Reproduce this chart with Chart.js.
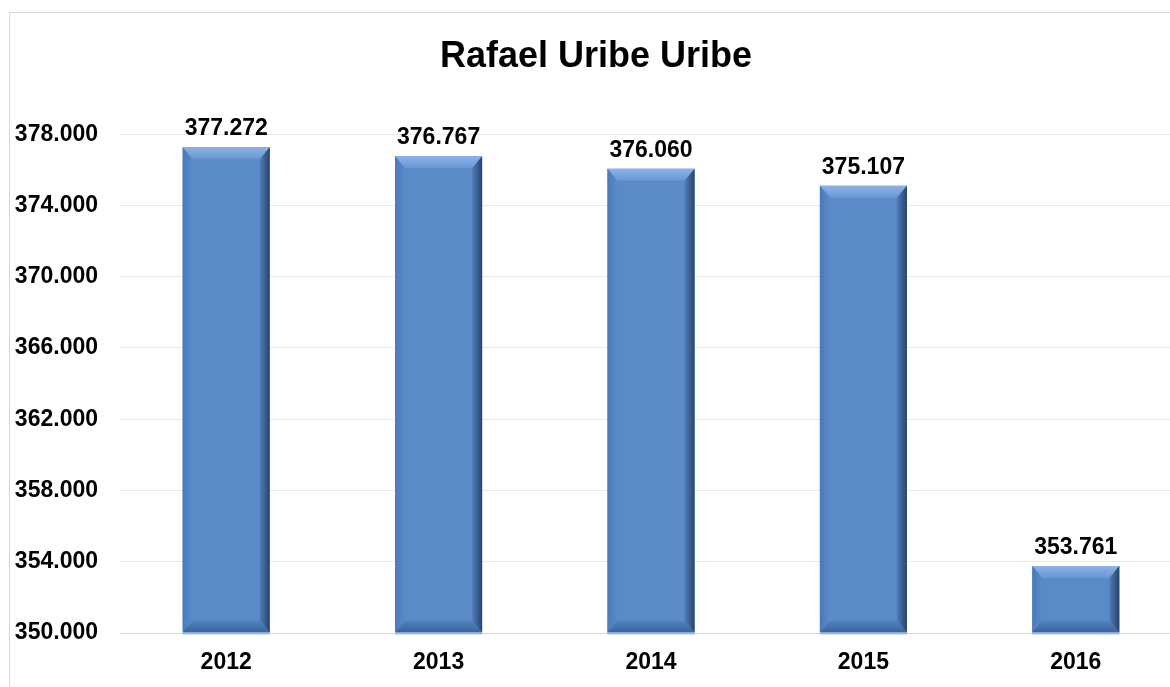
<!DOCTYPE html>
<html>
<head>
<meta charset="utf-8">
<title>Rafael Uribe Uribe</title>
<script src="https://cdn.jsdelivr.net/npm/chart.js@4/dist/chart.umd.min.js"></script>
<style>
  html, body { margin: 0; padding: 0; background: #fff; overflow: hidden; }
  #frame {
    position: absolute; left: 9px; top: 12px; width: 1200px; height: 700px;
    border-left: 1px solid #d9d9d9; border-top: 1px solid #d9d9d9;
  }
  #wrap { position: absolute; left: 0; top: 0; width: 1190px; height: 700px; }
</style>
</head>
<body>
<div id="frame"><div id="wrap"><canvas id="chart"></canvas></div></div>
<script>
"use strict";

// data
const years = ["2012", "2013", "2014", "2015", "2016"];
const population = [377272, 376767, 376060, 375107, 353761];
const yMin = 350000;
const yMax = 378000;
const yStep = 4000;

// 377272 -> "377.272"
let fmt = n => Math.round(n).toString().replace(/\B(?=(\d{3})+(?!\d))/g, ".");

const FONT = "'Liberation Sans', Arial, sans-serif";
const BAR_COLOR = "#5a8ac7";

// bevel look of the bars, drawn over each bar element
let bevelPlugin = {
  id: "bevel",
  afterDatasetsDraw(chart) {
    let ctx = chart.ctx;
    let meta = chart.getDatasetMeta(0);
    for (let el of meta.data) {
      let p = el.getProps(["x", "y", "base", "width"], true);
      let l = p.x - p.width / 2, r = p.x + p.width / 2;
      let t = p.y, b = Math.min(p.base, chart.chartArea.bottom);
      let bv = Math.min(12, (b - t) / 2.5);
      let sv = 10;
      ctx.save();
      // top
      let g = ctx.createLinearGradient(0, t, 0, t + bv);
      g.addColorStop(0, "#8cb3e6");
      g.addColorStop(1, "#6996d2");
      ctx.fillStyle = g;
      ctx.beginPath();
      ctx.moveTo(l, t); ctx.lineTo(r, t); ctx.lineTo(r - sv, t + bv); ctx.lineTo(l + sv, t + bv);
      ctx.closePath(); ctx.fill();
      // left
      g = ctx.createLinearGradient(l, 0, l + sv, 0);
      g.addColorStop(0, "#4a7ab8");
      g.addColorStop(1, "#5a8ac7");
      ctx.fillStyle = g;
      ctx.beginPath();
      ctx.moveTo(l, t); ctx.lineTo(l + sv, t + bv); ctx.lineTo(l + sv, b - bv); ctx.lineTo(l, b);
      ctx.closePath(); ctx.fill();
      // right
      g = ctx.createLinearGradient(r - sv, 0, r, 0);
      g.addColorStop(0, "#4f7db9");
      g.addColorStop(1, "#28446a");
      ctx.fillStyle = g;
      ctx.beginPath();
      ctx.moveTo(r, t); ctx.lineTo(r, b); ctx.lineTo(r - sv, b - bv); ctx.lineTo(r - sv, t + bv);
      ctx.closePath(); ctx.fill();
      // bottom
      g = ctx.createLinearGradient(0, b - bv, 0, b);
      g.addColorStop(0, "#5383c1");
      g.addColorStop(1, "#3a629a");
      ctx.fillStyle = g;
      ctx.beginPath();
      ctx.moveTo(l, b); ctx.lineTo(l + sv, b - bv); ctx.lineTo(r - sv, b - bv); ctx.lineTo(r, b);
      ctx.closePath(); ctx.fill();
      // thin light edge under the bar
      ctx.fillStyle = "#9dbbe4";
      ctx.fillRect(l, b, r - l, 2);
      ctx.restore();
    }
  }
};

// value labels above the bars
let valueLabels = {
  id: "valueLabels",
  afterDraw(chart) {
    let ctx = chart.ctx;
    let meta = chart.getDatasetMeta(0);
    let values = chart.data.datasets[0].data;
    ctx.save();
    ctx.font = "bold 23px " + FONT;
    ctx.fillStyle = "#000";
    ctx.textAlign = "center";
    ctx.textBaseline = "alphabetic";
    meta.data.forEach((el, i) => {
      ctx.fillText(fmt(values[i]), el.x, el.y - 12);
    });
    ctx.restore();
  }
};

let chartEl = document.querySelector("#chart");
let myChart = new Chart(chartEl, {
  type: "bar",
  data: {
    labels: years,
    datasets: [{
      data: population,
      base: yMin,
      backgroundColor: BAR_COLOR,
      borderWidth: 0,
      categoryPercentage: 0.82,
      barPercentage: 0.5
    }]
  },
  options: {
    responsive: true,
    maintainAspectRatio: false,
    animation: false,
    layout: { padding: { left: 0, right: 18, top: 0, bottom: 40 } },
    plugins: {
      legend: { display: false },
      tooltip: { enabled: false },
      title: {
        display: true,
        text: "Rafael Uribe Uribe",
        color: "#000",
        font: { family: FONT, size: 36, weight: "bold" },
        padding: { top: 22, bottom: 56 }
      }
    },
    scales: {
      x: {
        grid: { display: false },
        border: { display: true, color: "#d4d4d4", width: 1 },
        ticks: {
          color: "#000",
          padding: 8,
          font: { family: FONT, size: 23, weight: "bold" }
        },
        afterFit: s => { s.height = 40; }
      },
      y: {
        min: yMin,
        max: yMax,
        border: { display: false },
        grid: { color: "#e8e8e8", lineWidth: 1, drawTicks: false },
        ticks: {
          stepSize: yStep,
          color: "#000",
          padding: 22,
          font: { family: FONT, size: 23, weight: "bold" },
          callback: v => fmt(v)
        },
        afterFit: s => { s.width = 110; }
      }
    }
  },
  plugins: [bevelPlugin, valueLabels]
});
</script>
</body>
</html>
